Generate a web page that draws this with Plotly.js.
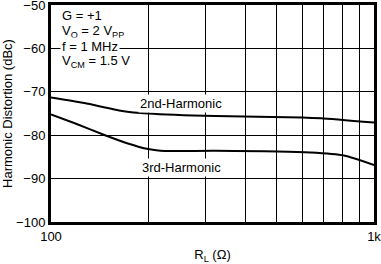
<!DOCTYPE html>
<html><head><meta charset="utf-8">
<script src="https://cdn.plot.ly/plotly-3.0.1.min.js"></script>
<style>html,body{margin:0;padding:0;background:#fff}#chart{width:381px;height:264px}</style>
</head><body><div id="chart"></div>
<script>
const rl2 = [100, 127, 166, 200, 323, 600, 685, 1000];
const hd2 = [-71.3, -72.6, -74.4, -75.0, -75.6, -75.9, -76.1, -77.1];
const rl3 = [100, 119, 147, 173, 200, 218, 323, 636, 808, 1000];
const hd3 = [-75.2, -77.3, -80.0, -81.9, -83.2, -83.6, -83.6, -84.0, -84.7, -86.9];
const xTickVals = [100, 200, 300, 400, 500, 600, 700, 800, 900, 1000];
const xTickText = ['100', '', '', '', '', '', '', '', '', '1k'];
const yTickVals = [-100, -90, -80, -70, -60, -50];
const condLines = ['G = +1', 'V<sub>O</sub> = 2 V<sub>PP</sub>', 'f = 1 MHz', 'V<sub>CM</sub> = 1.5 V'];

const font = {family: 'Liberation Sans, Arial, sans-serif', size: 13, color: '#000'};
const data = [
  {x: rl2, y: hd2, mode: 'lines', line: {color: '#000', width: 2, shape: 'spline', smoothing: 0.6}, name: '2nd-Harmonic'},
  {x: rl3, y: hd3, mode: 'lines', line: {color: '#000', width: 2, shape: 'spline', smoothing: 0.6}, name: '3rd-Harmonic'}
];
const condY = [15, 31, 46.5, 62];
const annotations = condLines.map((t, i) => ({
  xref: 'paper', yref: 'paper', x: 9 / 323, y: 1 - (condY[i] - 5) / 217,
  xanchor: 'left', yanchor: 'middle', align: 'left', text: t,
  showarrow: false, bgcolor: i === 2 ? '#fff' : 'rgba(0,0,0,0)', font: font, borderpad: 1
}));
annotations.push(
  {xref: 'x', yref: 'y', x: Math.log10(253), y: -72.8, text: '2nd-Harmonic', showarrow: false, bgcolor: '#fff', font: font, borderpad: 1},
  {xref: 'x', yref: 'y', x: Math.log10(253), y: -87.5, text: '3rd-Harmonic', showarrow: false, bgcolor: '#fff', font: font, borderpad: 1}
);
const layout = {
  width: 381, height: 264,
  margin: {l: 51, r: 7, t: 5, b: 42},
  paper_bgcolor: '#fff', plot_bgcolor: '#fff',
  showlegend: false,
  font: font,
  xaxis: {
    type: 'log', range: [2, 3], tickvals: xTickVals, ticktext: xTickText,
    showgrid: true, gridcolor: '#000', gridwidth: 1,
    showline: true, linecolor: '#000', linewidth: 3, mirror: true,
    ticks: '', ticklen: 0, zeroline: false, ticklabeloverflow: 'allow',
    title: {text: 'R<sub>L</sub> (Ω)', font: font, standoff: 8},
    automargin: false
  },
  yaxis: {
    range: [-100, -50], tickvals: yTickVals,
    showgrid: true, gridcolor: '#000', gridwidth: 1,
    showline: true, linecolor: '#000', linewidth: 3, mirror: true,
    ticks: '', zeroline: false, ticklabeloverflow: 'allow',
    title: {text: 'Harmonic Distortion (dBc)', font: font, standoff: 4},
    automargin: false
  },
  annotations: annotations
};
Plotly.newPlot('chart', data, layout, {staticPlot: true, displayModeBar: false});
</script></body></html>
